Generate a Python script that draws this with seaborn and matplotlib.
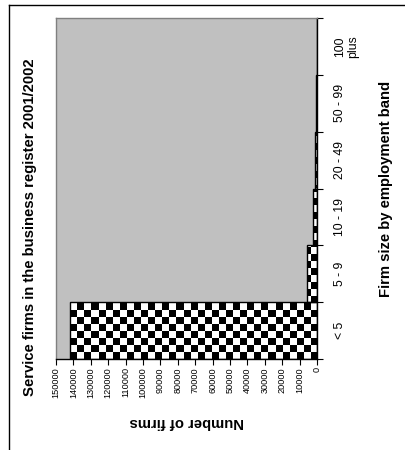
import numpy as np
import pandas as pd
import matplotlib
matplotlib.use("Agg")
import matplotlib.pyplot as plt
import seaborn as sns
from matplotlib.lines import Line2D
from matplotlib.colors import ListedColormap

# Employment bands (bottom to top) and number of service firms in each
bands = ["< 5", "5 - 9", "10 - 19", "20 - 49", "50 - 99", "100\nplus"]
firms = [142000, 6000, 2500, 1200, 400, 250]
value_ticks = list(range(0, 150001, 10000))

title = "Service firms in the business register 2001/2002"
x_title = "Number of firms"
y_title = "Firm size by employment band"

plt.rcParams["font.family"] = ["Liberation Sans", "DejaVu Sans"]

W, H = 405, 450
fig = plt.figure(figsize=(W / 100, H / 100), dpi=100)
fig.patch.set_facecolor("white")
ax = fig.add_axes([56 / W, 1 - 359 / H, 261 / W, 341 / H])

df = pd.DataFrame({"band": bands, "firms": firms})
sns.barplot(data=df, x="firms", y="band", order=bands[::-1], orient="h",
            width=1.0, color="white", saturation=1, edgecolor="black",
            linewidth=1.0, ax=ax)

ax.set_facecolor("#C0C0C0")
xmax = 150000
ax.set_xlim(xmax, 0)
ax.set_ylim(5.5, -0.5)

# checkerboard fill clipped to each bar
nx, ny = 37, 49
checker = np.add.outer(np.arange(ny), np.arange(nx)) % 2
cmap = ListedColormap(["black", "white"])
for patch in list(ax.patches):
    patch.set_facecolor("none")
    patch.set_zorder(3)
    im = ax.imshow(checker, cmap=cmap, extent=(0, xmax, -0.5, 5.5),
                   aspect="auto", interpolation="nearest", zorder=2)
    im.set_clip_path(patch)
ax.set_xlim(xmax, 0)
ax.set_ylim(5.5, -0.5)
ax.set_aspect("auto")

for s in ["left", "top"]:
    ax.spines[s].set_color("#808080")
    ax.spines[s].set_linewidth(1.0)
for s in ["right", "bottom"]:
    ax.spines[s].set_color("black")
    ax.spines[s].set_linewidth(1.0)

# value axis
ax.set_xticks(value_ticks)
ax.set_xticklabels([str(v) for v in value_ticks])
ax.tick_params(axis="x", direction="out", length=4, width=0.8, pad=2,
               labelrotation=90, labelsize=6.6, color="black")

# category axis on the right
ax.yaxis.tick_right()
ax.set_yticks(np.arange(-0.5, 6, 1), minor=True)
ax.tick_params(axis="y", which="major", length=0, pad=12, labelsize=8.8,
               labelrotation=90, left=False, right=True)
ax.tick_params(axis="y", which="minor", length=4, width=0.8,
               direction="out", left=False, right=True, color="black")
for lab in ax.get_yticklabels():
    lab.set_verticalalignment("center")
    lab.set_horizontalalignment("left")
    lab.set_multialignment("center")

ax.set_xlabel(x_title, fontsize=10.7, fontweight="bold", rotation=180,
              va="center", ha="center")
ax.xaxis.set_label_coords((187 - 56) / 261, -(422 - 359) / 341)
ax.yaxis.set_label_position("right")
ax.set_ylabel(y_title, fontsize=10.7, fontweight="bold", rotation=90,
              va="center", ha="center")
ax.yaxis.set_label_coords((386 - 56) / 261, 0.5)

fig.text(30 / W, 1 - 227 / H, title, rotation=90, fontsize=10.7,
         fontweight="bold", ha="center", va="center")

# chart frame (left and top edges)
fig.add_artist(Line2D([8.5 / W, 8.5 / W], [0, 1 - 4.5 / H], color="black",
                      lw=1.0, transform=fig.transFigure))
fig.add_artist(Line2D([8.5 / W, 1], [1 - 4.5 / H, 1 - 4.5 / H], color="black",
                      lw=1.0, transform=fig.transFigure))

fig.savefig("out.png", dpi=100)
